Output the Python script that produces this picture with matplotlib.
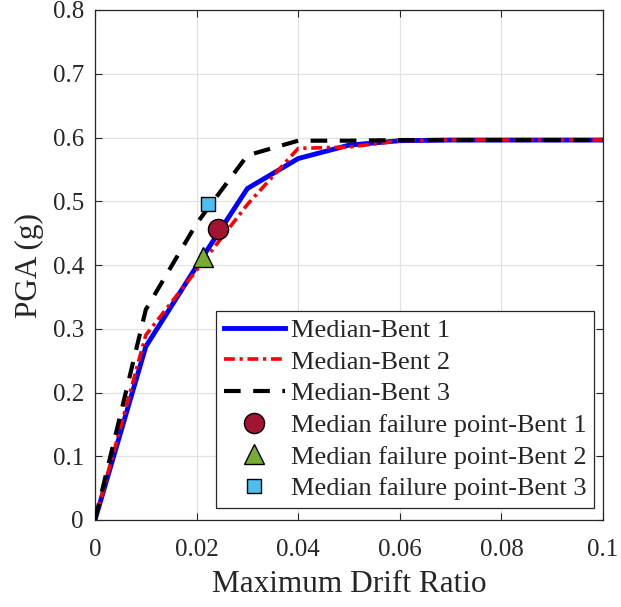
import matplotlib
matplotlib.use("Agg")
import matplotlib.pyplot as plt

plt.rcParams['font.family'] = ['Liberation Serif', 'DejaVu Serif']
plt.rcParams['mathtext.fontset'] = 'stix'

# Maximum drift ratio sampled every 0.01
drift = [0.0, 0.01, 0.02, 0.03, 0.04, 0.05, 0.06, 0.07, 0.08, 0.09, 0.10]

# Median PGA (g) curves for the three bents
pga_bent1 = [0.0, 0.272, 0.398, 0.520, 0.567, 0.588, 0.595, 0.596, 0.596, 0.596, 0.596]
pga_bent2 = [0.0, 0.290, 0.392, 0.495, 0.583, 0.585, 0.595, 0.596, 0.596, 0.596, 0.596]
pga_bent3 = [0.0, 0.330, 0.465, 0.572, 0.595, 0.595, 0.596, 0.596, 0.596, 0.596, 0.596]

# Median failure points (drift, PGA)
fail_bent1 = (0.0243, 0.456)
fail_bent2 = (0.0212, 0.413)
fail_bent3 = (0.0222, 0.495)

labels = ['Median-Bent 1', 'Median-Bent 2', 'Median-Bent 3',
          'Median failure point-Bent 1', 'Median failure point-Bent 2',
          'Median failure point-Bent 3']

x_ticks = [0, 0.02, 0.04, 0.06, 0.08, 0.1]
x_ticklabels = ['0', '0.02', '0.04', '0.06', '0.08', '0.1']
y_ticks = [0, 0.1, 0.2, 0.3, 0.4, 0.5, 0.6, 0.7, 0.8]
y_ticklabels = ['0', '0.1', '0.2', '0.3', '0.4', '0.5', '0.6', '0.7', '0.8']

axis_col = '#262626'

fig = plt.figure(figsize=(6.21, 6.07), dpi=100)
ax = fig.add_axes([95 / 621, 1 - 520 / 607, 508 / 621, 510 / 607])

ax.plot(drift, pga_bent1, color='#0000FF', lw=3.5, solid_joinstyle='miter',
        label=labels[0], zorder=3)
ax.plot(drift, pga_bent2, color='#FF0000', lw=2.6, dashes=(3.0, 1.3, 0.9, 1.3),
        label=labels[1], zorder=4)
ax.plot(drift, pga_bent3, color='black', lw=3.0, dashes=(4.0, 3.0),
        dash_capstyle='butt', label=labels[2], zorder=5)

ax.plot([fail_bent1[0]], [fail_bent1[1]], 'o', ms=14.5, mfc='#A2142F',
        mec='black', mew=1.0, ls='none', label=labels[3], zorder=6)
ax.plot([fail_bent2[0]], [fail_bent2[1]], '^', ms=15, mfc='#77AC30',
        mec='black', mew=1.0, ls='none', label=labels[4], zorder=6)
ax.plot([fail_bent3[0]], [fail_bent3[1]], 's', ms=10, mfc='#4DBEEE',
        mec='black', mew=1.0, ls='none', label=labels[5], zorder=6)

ax.set_xlim(0, 0.1)
ax.set_ylim(0, 0.8)
ax.set_xticks(x_ticks)
ax.set_xticklabels(x_ticklabels)
ax.set_yticks(y_ticks)
ax.set_yticklabels(y_ticklabels)

ax.grid(True, color='#e3e3e3', lw=0.9, zorder=0)
ax.set_axisbelow(True)
for sp in ax.spines.values():
    sp.set_color(axis_col)
    sp.set_linewidth(0.9)
ax.tick_params(direction='in', length=5, width=0.8, colors=axis_col,
               labelsize=18, top=True, right=True)
ax.tick_params(axis='x', pad=14)
ax.tick_params(axis='y', pad=8)
for t in ax.get_xticklabels() + ax.get_yticklabels():
    t.set_color(axis_col)

ax.set_xlabel('Maximum Drift Ratio', fontsize=22.5, color=axis_col, labelpad=6)
ax.set_ylabel('PGA (g)', fontsize=22.5, color=axis_col, labelpad=6)

leg = ax.legend(loc='lower right', bbox_to_anchor=(1.006, 0.0),
                fontsize=19, frameon=True, fancybox=False,
                edgecolor=axis_col, framealpha=1.0, borderpad=0.3,
                labelspacing=0.31, handlelength=2.3, handletextpad=0.22,
                borderaxespad=0.45, numpoints=1)
leg.get_frame().set_linewidth(0.9)
for txt in leg.get_texts():
    txt.set_color(axis_col)

fig.savefig('out.png', dpi=100)
